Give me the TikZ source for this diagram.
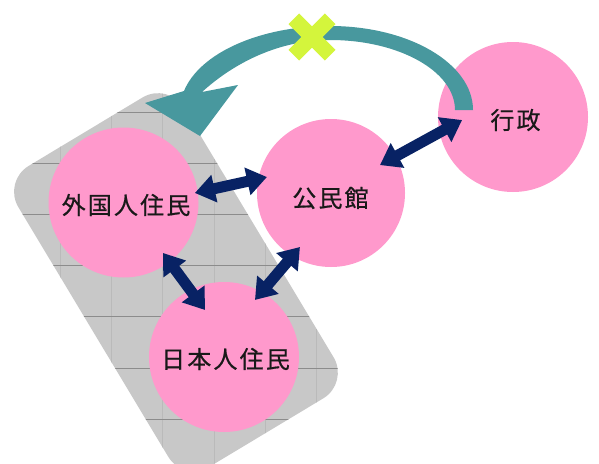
\documentclass[tikz,border=0pt]{standalone}
\usepackage{fontspec}
\newfontfamily\jp[LetterSpace=9,FakeBold=0.6]{Noto Sans CJK JP}
\usetikzlibrary{arrows.meta,calc}
\definecolor{pinkc}{RGB}{255,153,204}
\definecolor{navy}{RGB}{8,34,100}
\definecolor{tealc}{RGB}{72,152,158}
\definecolor{limec}{RGB}{212,245,60}
\definecolor{boxgray}{RGB}{200,200,200}
\definecolor{gridh}{RGB}{140,140,140}
\definecolor{gridv}{RGB}{186,186,186}
\begin{document}
\begin{tikzpicture}[x=1pt,y=-1pt,
  bubble/.style={circle,fill=pinkc,inner sep=0pt,minimum size=150pt},
  lbl/.style={font=\jp\fontsize{24}{26}\selectfont,text=black!90,inner sep=0pt},
  link/.style={navy,line width=11pt,{Triangle[width=27pt,length=20pt]}-{Triangle[width=27pt,length=20pt]}},
  groupbox/.style={fill=boxgray,rounded corners=30pt},
  cross/.style={limec,line width=15pt}]
\clip (0,0) rectangle (599,463);
\fill[white] (0,0) rectangle (599,463);

% gray group box with grid
\fill[groupbox] (2.9,181.4) -- (168.3,82) -- (349,382.9) -- (183.6,482.3) -- cycle;
\begin{scope}
  \clip[rounded corners=30pt] (2.9,181.4) -- (168.3,82) -- (349,382.9) -- (183.6,482.3) -- cycle;
  \foreach \gx in {9,60.2,111.4,162.6,213.8,265,316.2}
    \draw[gridv,line width=0.5pt] (\gx,70) -- (\gx,470);
  \foreach \gy in {112,163.2,214.4,265.6,316.8,368,419.2}
    \draw[gridh,line width=0.7pt] (0,\gy) -- (360,\gy);
\end{scope}

% circles
\node[bubble] (gk) at (123.5,202.5) {};
\node[bubble] (nh) at (224,357) {};
\node[bubble,minimum size=148pt] (km) at (331,193) {};
\node[bubble] (gs) at (513,117) {};

% teal curved arrow (from the administration back to the residents' group)
\fill[tealc] (473,110) .. controls (473,63.6) and (409,26) .. (330,26)
  .. controls (260,26) and (199.6,53) .. (184,91)
  -- (145,103) -- (200,136) -- (238,85) -- (202,92)
  .. controls (235,62) and (280,40) .. (330,40)
  .. controls (399,40) and (455,71.3) .. (455,110) -- cycle;

% cross mark
\coordinate (xm) at (312,37);
\draw[cross] ($(xm)+(-18.2,-18.2)$) -- ($(xm)+(18.2,18.2)$);
\draw[cross] ($(xm)+(18.2,-18.2)$) -- ($(xm)+(-18.2,18.2)$);

% navy double arrows
\draw[link] ($(gk)+(7.6:72pt)$) -- ($(km)+(166:66pt)$);
\draw[link] ($(gk)+(-52:64pt)$) -- ($(nh)+(112:50.7pt)$);
\draw[link] ($(nh)+(61.5:64.9pt)$) -- ($(km)+(240.1:62.3pt)$);
\draw[link] ($(km)+(29.7:56.4pt)$) -- ($(gs)+(183.4:51pt)$);

% labels
\node[lbl] (tgk) at ($(gk)+(2.5,2.5)$) {外国人住民};
\node[lbl] (tnh) at ($(nh)+(1.5,2)$) {日本人住民};
\node[lbl] (tkm) at ($(km)+(-0.5,5)$) {公民館};
\node[lbl] (tgs) at ($(gs)+(2.5,3)$) {行政};
\end{tikzpicture}
\end{document}
